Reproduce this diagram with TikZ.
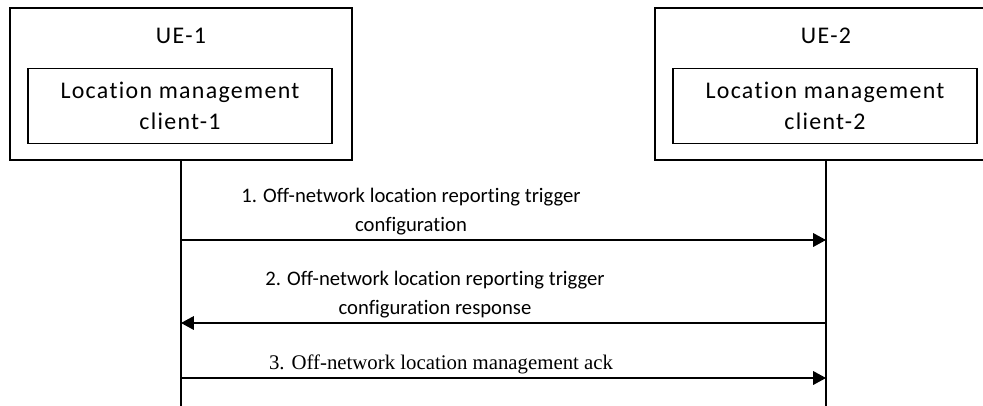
\documentclass[tikz,border=0pt]{standalone}
\usepackage{fontspec}
\setmainfont[Ligatures = NoCommon]{Carlito}
\newfontfamily\boxfont[Ligatures = NoCommon, LetterSpace = 5.5]{Carlito}
\newfontfamily\msgserif{Liberation Serif}
\usetikzlibrary{arrows.meta}
\usetikzlibrary{positioning}
\tikzset{ue/.style = {draw, line width = 0.8pt, minimum width = 8.55cm, minimum height = 3.8cm}}
\tikzset{uelabel/.style = {font = \boxfont\fontsize{17}{21}\selectfont}}
\tikzset{client/.style = {draw, line width = 0.8pt, minimum width = 7.6cm, minimum height = 1.875cm,
                          align = center, font = \boxfont\fontsize{17}{22}\selectfont}}
\tikzset{msg/.style = {line width = 0.8pt, -{Triangle[length = 3.2mm, width = 3.4mm]}}}
\tikzset{msglabel/.style = {align = center, font = \fontsize{14.7}{21}\selectfont}}

\begin{document}
\begin{tikzpicture}
    \useasboundingbox (0, 0) rectangle (24.575, -10.125);

    \node [ue] (ue1) at (4.525, -2.1) {};
    \node [uelabel] (ue1t) at (4.525, -0.9) {UE-1};
    \node [client] (lmc1) at (4.5, -2.64) {Location management\\client-1};

    \node [ue] (ue2) at (20.65, -2.1) {};
    \node [uelabel] (ue2t) at (20.65, -0.9) {UE-2};
    \node [client] (lmc2) at (20.625, -2.64) {Location management\\client-2};

    % lifelines
    \coordinate (end1) at (4.525, -10.2);
    \coordinate (end2) at (20.65, -10.2);
    \draw [line width = 0.8pt] (ue1.south) -- (end1);
    \draw [line width = 0.8pt] (ue2.south) -- (end2);

    % messages
    \coordinate (a1) at (4.525, -6.0);
    \coordinate (b1) at (20.65, -6.0);
    \coordinate (a2) at (4.525, -8.075);
    \coordinate (b2) at (20.65, -8.075);
    \coordinate (a3) at (4.525, -9.45);
    \coordinate (b3) at (20.65, -9.45);

    \draw [msg] (a1) -- (b1);
    \node [msglabel] (m1) at (10.275, -5.29) {1. Off-network location reporting trigger\\configuration};

    \draw [msg] (b2) -- (a2);
    \node [msglabel] (m2) at (10.875, -7.36) {2. Off-network location reporting trigger\\configuration response};

    \draw [msg] (a3) -- (b3);
    \node [font = \msgserif\fontsize{14.8}{18}\selectfont] (m3) at (11.025, -9.1) {3. Off-network location management ack};
  \end{tikzpicture}
\end{document}
